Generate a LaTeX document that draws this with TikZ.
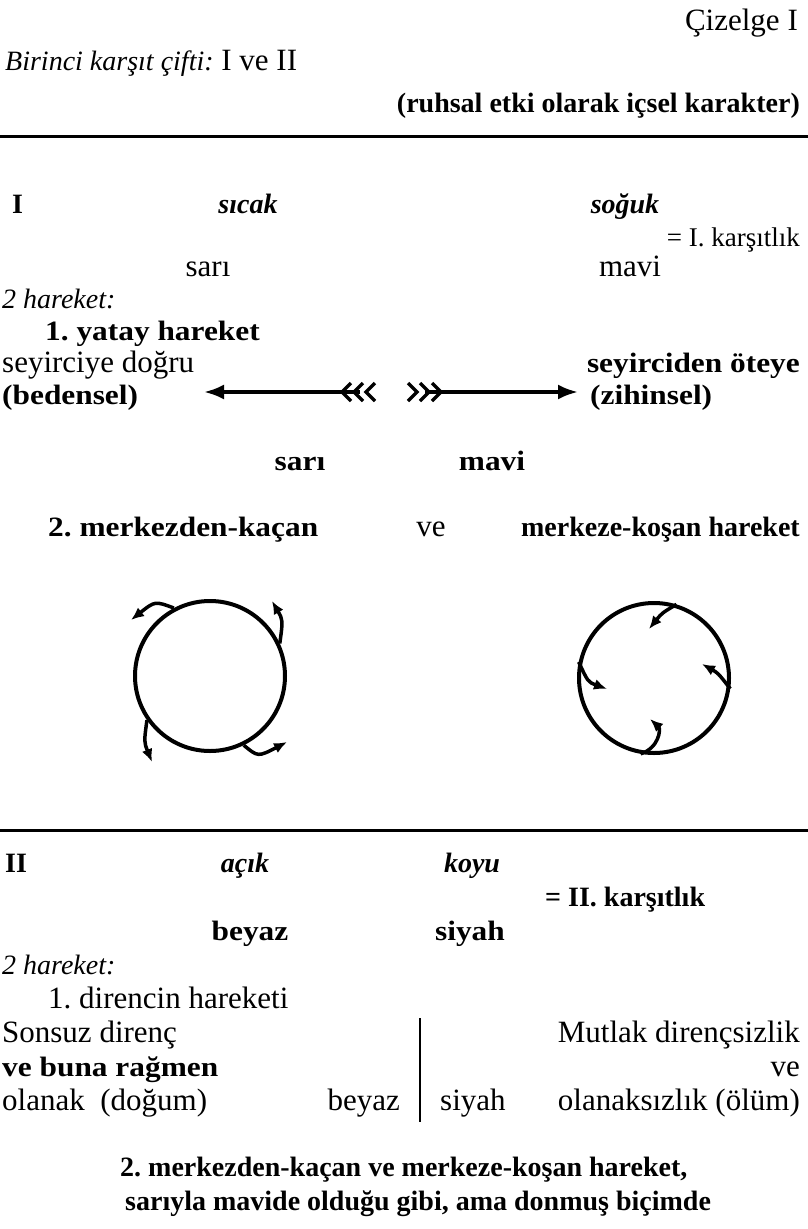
\documentclass[tikz,border=0pt]{standalone}
\usepackage{fontspec}
\setmainfont{Liberation Serif}
\newfontfamily\widefam[FakeStretch=1.12]{Liberation Serif}
\usetikzlibrary{arrows.meta}
\tikzset{
  txr/.style={inner sep=0pt, font=\fontsize{31}{35}\selectfont},
  txs/.style={inner sep=0pt, font=\fontsize{27}{31}\selectfont},
  txb/.style={inner sep=0pt, font=\fontsize{28}{32}\selectfont\bfseries},
  txbw/.style={inner sep=0pt, font=\fontsize{28}{32}\selectfont\widefam\bfseries},
  txi/.style={inner sep=0pt, font=\fontsize{28}{32}\selectfont\itshape},
  txbi/.style={inner sep=0pt, font=\fontsize{28}{32}\selectfont\bfseries\itshape},
  hrule/.style={line width=3pt},
  bigarrow/.style={line width=3.5pt, -{Latex[length=20pt,width=15pt]}},
  fletch/.style={line width=3.5pt},
  ring/.style={circle, draw, line width=4pt, minimum size=150pt, inner sep=0pt},
  swirl/.style={line width=3.5pt, -{Latex[length=13pt,width=11pt]}},
  divider/.style={line width=1.5pt}
}
\begin{document}
\frenchspacing
\begin{tikzpicture}[x=1pt,y=-1pt]
\useasboundingbox (0,0) rectangle (808,1229);
% header
\node[txr, anchor=base east] (ciz) at (798,30) {Çizelge I};
\node[txr, anchor=base west] (bir) at (5,70) {{\fontsize{28}{32}\selectfont\itshape Birinci karşıt çifti:} I ve II};
\node[txb, anchor=base east] (ruh) at (800,112) {(ruhsal etki olarak içsel karakter)};
\coordinate (r1a) at (0,136); \coordinate (r1b) at (808,136);
\draw[hrule] (r1a) -- (r1b);
% section I
\node[txb, anchor=base west] (one) at (12,213) {I};
\node[txbi, anchor=base] (sicak) at (248,213) {sıcak};
\node[txbi, anchor=base] (soguk) at (625,213) {soğuk};
\node[txs, anchor=base east] (k1) at (800,246) {= I. karşıtlık};
\node[txr, anchor=base] (sari1) at (208,276) {sarı};
\node[txr, anchor=base] (mavi1) at (630,276) {mavi};
\node[txi, anchor=base west] (har1) at (2,308) {2 hareket:};
\node[txbw, anchor=base west] (yatay) at (45,340) {1. yatay hareket};
\node[txr, anchor=base west] (seyd) at (2,372) {seyirciye doğru};
\node[txbw, anchor=base east] (seyo) at (800,372) {seyirciden öteye};
\node[txbw, anchor=base west] (bed) at (2,404) {(bedensel)};
\node[txbw, anchor=base west] (zih) at (590,404) {(zihinsel)};
% horizontal arrows
\coordinate (lt) at (360,392); \coordinate (lh) at (204,392);
\coordinate (rt) at (425,392); \coordinate (rh) at (578,392);
\draw[bigarrow] (lt) -- (lh);
\draw[bigarrow] (rt) -- (rh);
\foreach \xx in {342,354,366} \draw[fletch] (\xx+9,383) -- (\xx,392) -- (\xx+9,401);
\foreach \xx in {417,429,441} \draw[fletch] (\xx-9,383) -- (\xx,392) -- (\xx-9,401);
\node[txbw, anchor=base] (sari2) at (300,470) {sarı};
\node[txbw, anchor=base] (mavi2) at (492,470) {mavi};
\node[txbw, anchor=base west] (merk1) at (48,536) {2. merkezden-kaçan};
\node[txr, anchor=base] (ve1) at (431,536) {ve};
\node[txb, anchor=base east] (merk2) at (800,536) {merkeze-koşan hareket};
% circles
\node[ring] (lc) at (210,676) {};
\node[ring] (rc) at (654,678) {};
\coordinate (la) at (131,620);
\coordinate (lb) at (272,601);
\coordinate (lcc) at (152,762);
\coordinate (ld) at (287,742);
\draw[swirl] (lc.118) .. controls (155,601) .. (la);
\draw[swirl] (lc.25) .. controls (283,620) .. (lb);
\draw[swirl] (lc.215) .. controls (144,742) .. (lcc);
\draw[swirl] (lc.296) .. controls (258,757) .. (ld);
\coordinate (ra) at (649,629);
\coordinate (rb) at (702,664);
\coordinate (rcc) at (650,719);
\coordinate (rd) at (607,689);
\draw[swirl] (rc.73) .. controls (662,613) .. (ra);
\draw[swirl] (rc.-8) .. controls (718,673) .. (rb);
\draw[swirl] (rc.260) .. controls (659,748) and (661,729) .. (rcc);
\draw[swirl] (rc.168) .. controls (588,682) .. (rd);
% section II
\coordinate (r2a) at (0,830); \coordinate (r2b) at (808,830);
\draw[hrule] (r2a) -- (r2b);
\node[txb, anchor=base west] (two) at (5,872) {II};
\node[txbi, anchor=base] (acik) at (245,872) {açık};
\node[txbi, anchor=base] (koyu) at (472,872) {koyu};
\node[txb, anchor=base west] (k2) at (545,906) {= II. karşıtlık};
\node[txbw, anchor=base] (bey1) at (250,940) {beyaz};
\node[txbw, anchor=base] (siy1) at (470,940) {siyah};
\node[txi, anchor=base west] (har2) at (2,974) {2 hareket:};
\node[txr, anchor=base west] (dir) at (48,1008) {1. direncin hareketi};
\node[txr, anchor=base west] (son) at (2,1042) {Sonsuz direnç};
\node[txr, anchor=base east] (mut) at (800,1042) {Mutlak dirençsizlik};
\node[txbw, anchor=base west] (buna) at (2,1076) {ve buna rağmen};
\node[txr, anchor=base east] (ve2) at (800,1076) {ve};
\node[txr, anchor=base west] (ola) at (2,1110) {olanak\ \ (doğum)};
\node[txr, anchor=base east] (bey2) at (400,1110) {beyaz};
\node[txr, anchor=base west] (siy2) at (440,1110) {siyah};
\node[txr, anchor=base east] (olz) at (800,1110) {olanaksızlık (ölüm)};
\coordinate (va) at (420,1018); \coordinate (vb) at (420,1122);
\draw[divider] (va) -- (vb);
\node[txb, anchor=base west] (last1) at (120,1176) {2. merkezden-kaçan ve merkeze-koşan hareket,};
\node[txb, anchor=base west] (last2) at (125,1210) {sarıyla mavide olduğu gibi, ama donmuş biçimde};
\end{tikzpicture}
\end{document}
